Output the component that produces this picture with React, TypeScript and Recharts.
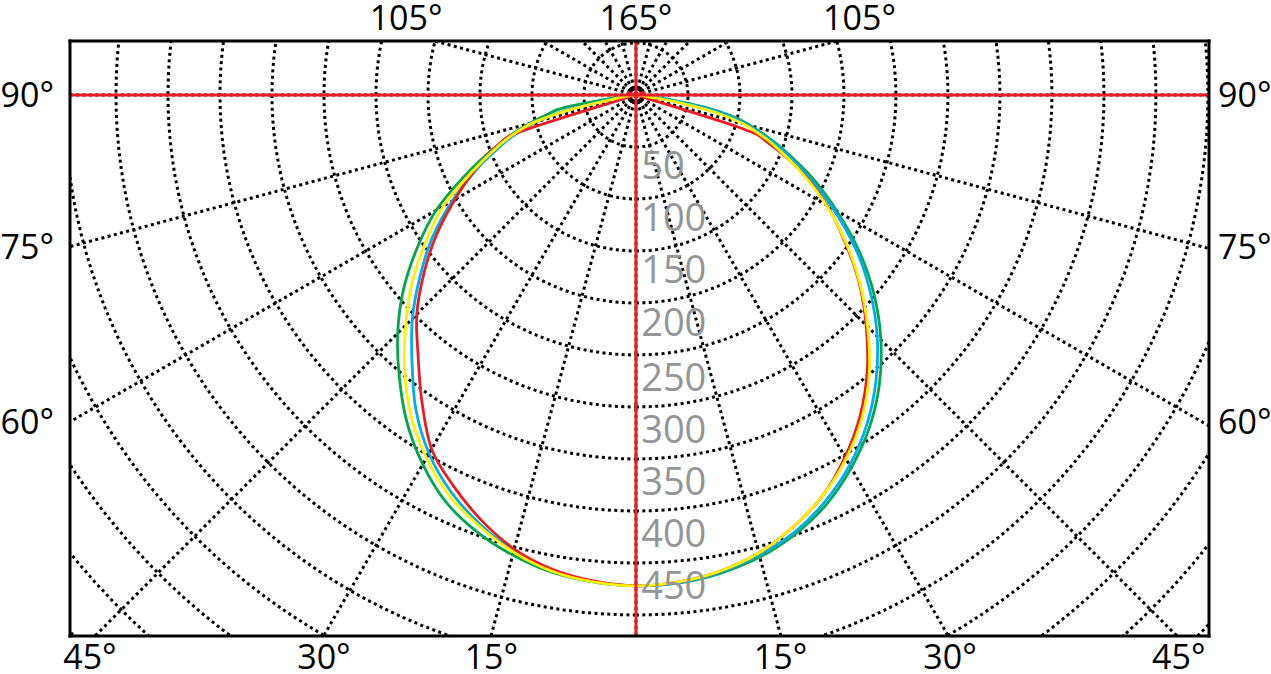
import React from "react";
import {
  ComposedChart,
  Line,
  Scatter,
  XAxis,
  YAxis,
  ReferenceLine,
} from "recharts";

// polar angles (deg from nadir) at which intensities were read
const ANGLES = [0, 5, 10, 15, 20, 25, 30, 35, 40, 45, 50, 55, 60, 65, 70, 72.5, 75, 77.5, 80, 82.5, 85, 87.5, 90];

// intensity (cd) per angle, left half and right half of each curve
const GREEN_LEFT = [472, 470, 466, 458, 447, 432, 410, 384, 354, 324, 292, 257, 222, 180, 142, 124, 106, 88, 70, 20, 5, 1, 0];
const GREEN_RIGHT = [472, 471, 467, 460, 449, 434, 414, 391, 364, 333, 299, 262, 223, 186, 149, 131, 114, 95, 66, 30, 8, 2, 0];
const BLUE_LEFT = [472, 470, 464, 454, 439, 421, 398, 369, 335, 304, 271, 239, 204, 169, 135, 118, 99, 70, 25, 8, 3, 1, 0];
const BLUE_RIGHT = [472, 471, 466, 458, 447, 431, 411, 387, 359, 328, 294, 258, 219, 181, 146, 128, 111, 91, 60, 25, 6, 1, 0];
const YELLOW_LEFT = [472, 470, 465, 455, 441, 425, 403, 377, 346, 313, 281, 247, 214, 173, 139, 121, 101, 62, 20, 8, 3, 1, 0];
const YELLOW_RIGHT = [472, 470, 465, 456, 442, 425, 404, 379, 349, 315, 281, 246, 211, 175, 141, 124, 106, 80, 40, 10, 3, 1, 0];
const RED_LEFT = [472, 469, 463, 452, 435, 415, 393, 359, 326, 298, 266, 234, 201, 171, 141, 113, 0, 0, 0, 0, 0, 0, 0];
const RED_RIGHT = [472, 470, 465, 456, 442, 425, 402, 376, 346, 313, 280, 245, 212, 176, 136, 107, 0, 0, 0, 0, 0, 0, 0];

// grid
const RINGS = [50, 100, 150, 200, 250, 300, 350, 400, 450, 500, 550, 600, 650, 700, 750];
const RAYS = [0, 15, 30, 45, 60, 75, 90, 105, 120, 135, 150, 165, 180, 195, 210, 225, 240, 255, 270, 285, 300, 315, 330, 345];
const CENTER_RING = 6;

// scale labels along the vertical axis
const SCALE_TEXT = ["50", "100", "150", "200", "250", "300", "350", "400", "450"];
const SCALE_POS = [68, 118, 168, 219, 271, 321, 371, 421, 471];

// angle labels round the frame
const BOTTOM_TICKS = [-525, -300, -139, 139, 302, 522];
const BOTTOM_TEXT = ["45°", "30°", "15°", "15°", "30°", "45°"];
const TOP_TICKS = [-221, 0, 215];
const TOP_TEXT = ["105°", "165°", "105°"];
const SIDE_TICKS = [0, -146, -314];
const SIDE_TEXT = ["90°", "75°", "60°"];

const X_DOMAIN: [number, number] = [-544.2, 551];
const Y_DOMAIN: [number, number] = [-520.2, 51.9];

const RED = "#ed1c24";
const FONT = "Open Sans";
const rad = (d: number) => (d * Math.PI) / 180;

// catmull-rom smoothing, passes through every point
function smooth(context: any) {
  let pts: number[][] = [];
  return {
    areaStart() {},
    areaEnd() {},
    lineStart() {
      pts = [];
    },
    point(x: number, y: number) {
      pts.push([+x, +y]);
    },
    lineEnd() {
      const n = pts.length;
      if (!n) return;
      context.moveTo(pts[0][0], pts[0][1]);
      for (let i = 0; i < n - 1; i++) {
        const p0 = pts[Math.max(0, i - 1)];
        const p1 = pts[i];
        const p2 = pts[i + 1];
        const p3 = pts[Math.min(n - 1, i + 2)];
        context.bezierCurveTo(
          p1[0] + (p2[0] - p0[0]) / 6,
          p1[1] + (p2[1] - p0[1]) / 6,
          p2[0] - (p3[0] - p1[0]) / 6,
          p2[1] - (p3[1] - p1[1]) / 6,
          p2[0],
          p2[1]
        );
      }
    },
  };
}

function curve(left: number[], right: number[]) {
  const pts: { x: number; y: number }[] = [];
  for (let i = ANGLES.length - 1; i >= 0; i--) {
    const a = rad(ANGLES[i]);
    pts.push({ x: -left[i] * Math.sin(a), y: -left[i] * Math.cos(a) });
  }
  for (let i = 1; i < ANGLES.length; i++) {
    const a = rad(ANGLES[i]);
    pts.push({ x: right[i] * Math.sin(a), y: -right[i] * Math.cos(a) });
  }
  return pts;
}

function ring(r: number) {
  const pts: { x: number; y: number }[] = [];
  for (let d = 0; d <= 360; d += 2) {
    pts.push({ x: r * Math.sin(rad(d)), y: -r * Math.cos(rad(d)) });
  }
  return pts;
}

function ray(a: number) {
  return [
    { x: 0, y: 0 },
    { x: 900 * Math.sin(rad(a)), y: -900 * Math.cos(rad(a)) },
  ];
}

const CURVES = [
  { name: "green", color: "#00a651", data: curve(GREEN_LEFT, GREEN_RIGHT) },
  { name: "blue", color: "#00aeef", data: curve(BLUE_LEFT, BLUE_RIGHT) },
  { name: "red", color: RED, data: curve(RED_LEFT, RED_RIGHT) },
  { name: "yellow", color: "#fff200", data: curve(YELLOW_LEFT, YELLOW_RIGHT) },
];

const scaleLabels = SCALE_TEXT.map((t, i) => ({ x: 5, y: -SCALE_POS[i], label: t }));

const labelOf = (ticks: number[], texts: string[], v: number) =>
  texts[ticks.indexOf(v)] ?? "";

const makeTick = (ticks: number[], texts: string[], side: string) => (p: any) => {
  const v = p.payload?.value;
  let anchor = "middle";
  let dy = "0";
  if (side === "bottom") dy = "0.71em";
  if (side === "left") {
    anchor = "end";
    dy = "0.36em";
  }
  if (side === "right") {
    anchor = "start";
    dy = "0.36em";
  }
  return (
    <text x={p.x} y={p.y} dy={dy} textAnchor={anchor} fill="#000" fontSize={34} fontFamily={FONT}>
      {labelOf(ticks, texts, v)}
    </text>
  );
};

const frame = { stroke: "#000", strokeWidth: 3, strokeLinecap: "square" as const };

export default function App() {
  return (
    <div style={{ position: "fixed", left: 0, top: 0, background: "#fff" }}>
      <ComposedChart width={1271} height={674} margin={{ top: 0, right: 0, bottom: 0, left: 0 }}>
        <XAxis
          xAxisId="bottom"
          type="number"
          dataKey="x"
          domain={X_DOMAIN}
          allowDataOverflow
          ticks={BOTTOM_TICKS}
          interval={0}
          tickLine={false}
          tickSize={0}
          tickMargin={9}
          height={38}
          axisLine={frame}
          tick={makeTick(BOTTOM_TICKS, BOTTOM_TEXT, "bottom")}
        />
        <XAxis
          xAxisId="top"
          orientation="top"
          type="number"
          dataKey="x"
          domain={X_DOMAIN}
          allowDataOverflow
          ticks={TOP_TICKS}
          interval={0}
          tickLine={false}
          tickSize={0}
          tickMargin={11}
          height={41}
          axisLine={frame}
          tick={makeTick(TOP_TICKS, TOP_TEXT, "top")}
        />
        <YAxis
          yAxisId="left"
          type="number"
          dataKey="y"
          domain={Y_DOMAIN}
          allowDataOverflow
          ticks={SIDE_TICKS}
          interval={0}
          tickLine={false}
          tickSize={0}
          tickMargin={16}
          width={70}
          axisLine={frame}
          tick={makeTick(SIDE_TICKS, SIDE_TEXT, "left")}
        />
        <YAxis
          yAxisId="right"
          orientation="right"
          type="number"
          dataKey="y"
          domain={Y_DOMAIN}
          allowDataOverflow
          ticks={SIDE_TICKS}
          interval={0}
          tickLine={false}
          tickSize={0}
          tickMargin={9}
          width={62}
          axisLine={frame}
          tick={makeTick(SIDE_TICKS, SIDE_TEXT, "right")}
        />

        {/* hidden series so the top / right axes carry data */}
        <Line
          xAxisId="top"
          yAxisId="right"
          data={ring(RINGS[0])}
          dataKey="y"
          stroke="none"
          dot={false}
          activeDot={false}
          isAnimationActive={false}
        />

        {RINGS.map((r) => (
          <Line
            key={"ring" + r}
            xAxisId="bottom"
            yAxisId="left"
            data={ring(r)}
            dataKey="y"
            type="linear"
            stroke="#000"
            strokeWidth={3}
            strokeDasharray="3 3.4"
            dot={false}
            activeDot={false}
            isAnimationActive={false}
          />
        ))}
        {RAYS.map((a) => (
          <Line
            key={"ray" + a}
            xAxisId="bottom"
            yAxisId="left"
            data={ray(a)}
            dataKey="y"
            type="linear"
            stroke="#000"
            strokeWidth={3}
            strokeDasharray="3 3.4"
            dot={false}
            activeDot={false}
            isAnimationActive={false}
          />
        ))}
        <Line
          xAxisId="bottom"
          yAxisId="left"
          data={ring(CENTER_RING)}
          dataKey="y"
          type="linear"
          stroke="#000"
          strokeWidth={3}
          dot={false}
          activeDot={false}
          isAnimationActive={false}
        />

        {CURVES.map((c) => (
          <Line
            key={c.name}
            xAxisId="bottom"
            yAxisId="left"
            data={c.data}
            dataKey="y"
            type={smooth as any}
            stroke={c.color}
            strokeWidth={2.8}
            dot={false}
            activeDot={false}
            isAnimationActive={false}
          />
        ))}

        <ReferenceLine xAxisId="bottom" yAxisId="left" y={0} stroke={RED} strokeWidth={3} />
        <ReferenceLine xAxisId="bottom" yAxisId="left" x={0} stroke={RED} strokeWidth={3} />

        <Scatter
          xAxisId="bottom"
          yAxisId="left"
          data={scaleLabels}
          dataKey="y"
          isAnimationActive={false}
          shape={(p: any) => (
            <text
              x={p.cx}
              y={p.cy}
              dy="0.36em"
              fill="#939598"
              fontSize={38}
              fontFamily={FONT}
              textAnchor="start"
            >
              {p.payload.label}
            </text>
          )}
        />
      </ComposedChart>
    </div>
  );
}
